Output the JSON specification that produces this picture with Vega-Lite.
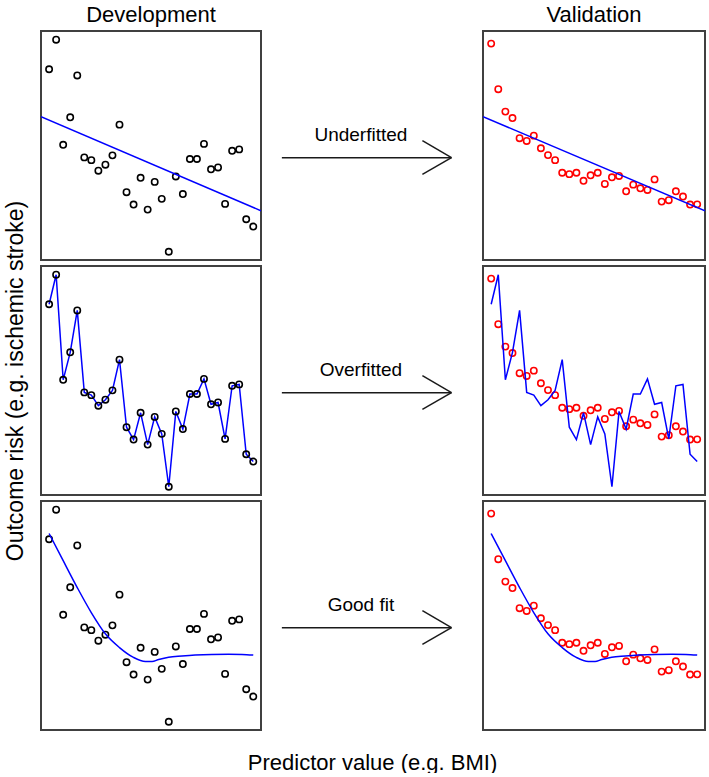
{
  "$schema": "https://vega.github.io/schema/vega-lite/v6.json",
  "padding": {"left": 2, "top": 3, "right": 0, "bottom": 0},
  "bounds": "flush",
  "config": {
    "font": "Liberation Sans",
    "view": {"stroke": "#404040", "strokeWidth": 2},
    "title": {"fontSize": 22, "fontWeight": "normal", "color": "black", "offset": 4}
  },
  "datasets": {
    "dev": [
      {"x": 1, "y": 83.3}, {"x": 2, "y": 96.2}, {"x": 3, "y": 50.3}, {"x": 4, "y": 62.3}, {"x": 5, "y": 80.6},
      {"x": 6, "y": 44.8}, {"x": 7, "y": 43.6}, {"x": 8, "y": 39.0}, {"x": 9, "y": 41.6}, {"x": 10, "y": 45.7},
      {"x": 11, "y": 59.1}, {"x": 12, "y": 29.6}, {"x": 13, "y": 24.2}, {"x": 14, "y": 35.9}, {"x": 15, "y": 22.0},
      {"x": 16, "y": 34.1}, {"x": 17, "y": 26.7}, {"x": 18, "y": 3.6}, {"x": 19, "y": 36.5}, {"x": 20, "y": 28.8},
      {"x": 21, "y": 44.1}, {"x": 22, "y": 44.1}, {"x": 23, "y": 50.7}, {"x": 24, "y": 39.6}, {"x": 25, "y": 40.4},
      {"x": 26, "y": 24.5}, {"x": 27, "y": 47.7}, {"x": 28, "y": 48.3}, {"x": 29, "y": 17.8}, {"x": 30, "y": 14.6}
    ],
    "val": [
      {"x": 1, "y": 94.5}, {"x": 2, "y": 74.6}, {"x": 3, "y": 64.8}, {"x": 4, "y": 62.0}, {"x": 5, "y": 53.2},
      {"x": 6, "y": 52.0}, {"x": 7, "y": 54.3}, {"x": 8, "y": 48.8}, {"x": 9, "y": 45.8}, {"x": 10, "y": 43.6},
      {"x": 11, "y": 38.1}, {"x": 12, "y": 37.5}, {"x": 13, "y": 38.1}, {"x": 14, "y": 34.6}, {"x": 15, "y": 37.0},
      {"x": 16, "y": 38.1}, {"x": 17, "y": 33.2}, {"x": 18, "y": 36.1}, {"x": 19, "y": 36.7}, {"x": 20, "y": 30.0},
      {"x": 21, "y": 32.9}, {"x": 22, "y": 31.3}, {"x": 23, "y": 30.6}, {"x": 24, "y": 35.2}, {"x": 25, "y": 25.5},
      {"x": 26, "y": 26.1}, {"x": 27, "y": 30.0}, {"x": 28, "y": 27.7}, {"x": 29, "y": 24.2}, {"x": 30, "y": 24.3}
    ],
    "fit": [{"x": -0.15, "y": 62.6}, {"x": 31.1, "y": 21.5}],
    "curve": [
      {"x": 1, "y": 85.8}, {"x": 2.89, "y": 74.6}, {"x": 5.0, "y": 62.2}, {"x": 6.99, "y": 51.3},
      {"x": 9.02, "y": 41.9}, {"x": 11.0, "y": 36.0}, {"x": 12.98, "y": 31.7}, {"x": 14.68, "y": 29.9},
      {"x": 15.62, "y": 29.9}, {"x": 16.57, "y": 30.8}, {"x": 17.98, "y": 31.8}, {"x": 19.87, "y": 32.3},
      {"x": 21.75, "y": 32.7}, {"x": 24.1, "y": 33.0}, {"x": 26.5, "y": 33.1}, {"x": 28.4, "y": 33.0},
      {"x": 30, "y": 32.7}
    ],
    "arrow": [
      {"x": 9.4, "y": 44.7, "x2": 85.8, "y2": 44.7},
      {"x": 72.7, "y": 52.1, "x2": 85.8, "y2": 44.7},
      {"x": 72.7, "y": 37.4, "x2": 85.8, "y2": 44.7}
    ]
  },
  "columns": 3,
  "spacing": {"row": 6, "column": 0},
  "concat": [
    {
      "width": 220, "height": 229,
      "title": {"text": "Development"},
      "encoding": {
        "x": {"field": "x", "type": "quantitative", "scale": {"domain": [-0.15, 31.1]}, "axis": null},
        "y": {"field": "y", "type": "quantitative", "scale": {"domain": [0, 100]}, "axis": null}
      },
      "layer": [
        {"data": {"name": "dev"}, "mark": {"type": "point", "shape": "circle", "filled": false, "color": "black", "strokeWidth": 1.6, "size": 40, "opacity": 1}},
        {"data": {"name": "fit"}, "mark": {"type": "line", "color": "#0000ff", "strokeWidth": 1.5, "clip": true}}
      ]
    },
    {
      "width": 222, "height": 229,
      "view": {"stroke": null},
      "encoding": {
        "x": {"field": "x", "type": "quantitative", "scale": {"domain": [0, 100]}, "axis": null},
        "y": {"field": "y", "type": "quantitative", "scale": {"domain": [0, 100]}, "axis": null}
      },
      "layer": [
        {"data": {"name": "arrow"}, "mark": {"type": "rule", "color": "#1a1a1a", "strokeWidth": 1.5}, "encoding": {"x2": {"field": "x2"}, "y2": {"field": "y2"}}},
        {"data": {"values": [{"label": "Underfitted", "x": 45, "y": 51.8}]}, "mark": {"type": "text", "fontSize": 19, "align": "center", "baseline": "alphabetic", "color": "black"}, "encoding": {"text": {"field": "label"}}}
      ]
    },
    {
      "width": 222, "height": 229,
      "title": {"text": "Validation"},
      "encoding": {
        "x": {"field": "x", "type": "quantitative", "scale": {"domain": [-0.15, 31.1]}, "axis": null},
        "y": {"field": "y", "type": "quantitative", "scale": {"domain": [0, 100]}, "axis": null}
      },
      "layer": [
        {"data": {"name": "val"}, "mark": {"type": "point", "shape": "circle", "filled": false, "color": "#ff0000", "strokeWidth": 1.6, "size": 40, "opacity": 1}},
        {"data": {"name": "fit"}, "mark": {"type": "line", "color": "#0000ff", "strokeWidth": 1.5, "clip": true}}
      ]
    },
    {
      "width": 220, "height": 229,
      "encoding": {
        "x": {"field": "x", "type": "quantitative", "scale": {"domain": [-0.15, 31.1]}, "axis": null},
        "y": {"field": "y", "type": "quantitative", "scale": {"domain": [0, 100]},
              "axis": {"title": "Outcome risk (e.g. ischemic stroke)", "labels": false, "ticks": false, "domain": false, "grid": false, "titleFontSize": 23, "titleFontWeight": "normal", "titleColor": "black", "titlePadding": 14}}
      },
      "layer": [
        {"data": {"name": "dev"}, "mark": {"type": "line", "color": "#0000ff", "strokeWidth": 1.5}},
        {"data": {"name": "dev"}, "mark": {"type": "point", "shape": "circle", "filled": false, "color": "black", "strokeWidth": 1.6, "size": 40, "opacity": 1}}
      ]
    },
    {
      "width": 222, "height": 229,
      "view": {"stroke": null},
      "encoding": {
        "x": {"field": "x", "type": "quantitative", "scale": {"domain": [0, 100]}, "axis": null},
        "y": {"field": "y", "type": "quantitative", "scale": {"domain": [0, 100]}, "axis": null}
      },
      "layer": [
        {"data": {"name": "arrow"}, "mark": {"type": "rule", "color": "#1a1a1a", "strokeWidth": 1.5}, "encoding": {"x2": {"field": "x2"}, "y2": {"field": "y2"}}},
        {"data": {"values": [{"label": "Overfitted", "x": 45, "y": 51.8}]}, "mark": {"type": "text", "fontSize": 19, "align": "center", "baseline": "alphabetic", "color": "black"}, "encoding": {"text": {"field": "label"}}}
      ]
    },
    {
      "width": 222, "height": 229,
      "encoding": {
        "x": {"field": "x", "type": "quantitative", "scale": {"domain": [-0.15, 31.1]}, "axis": null},
        "y": {"field": "y", "type": "quantitative", "scale": {"domain": [0, 100]}, "axis": null}
      },
      "layer": [
        {"data": {"name": "val"}, "mark": {"type": "point", "shape": "circle", "filled": false, "color": "#ff0000", "strokeWidth": 1.6, "size": 40, "opacity": 1}},
        {"data": {"name": "dev"}, "mark": {"type": "line", "color": "#0000ff", "strokeWidth": 1.5}}
      ]
    },
    {
      "width": 220, "height": 229,
      "encoding": {
        "x": {"field": "x", "type": "quantitative", "scale": {"domain": [-0.15, 31.1]}, "axis": null},
        "y": {"field": "y", "type": "quantitative", "scale": {"domain": [0, 100]}, "axis": null}
      },
      "layer": [
        {"data": {"name": "dev"}, "mark": {"type": "point", "shape": "circle", "filled": false, "color": "black", "strokeWidth": 1.6, "size": 40, "opacity": 1}},
        {"data": {"name": "curve"}, "mark": {"type": "line", "color": "#0000ff", "strokeWidth": 1.5, "interpolate": "monotone"}}
      ]
    },
    {
      "width": 222, "height": 229,
      "view": {"stroke": null},
      "encoding": {
        "x": {"field": "x", "type": "quantitative", "scale": {"domain": [0, 100]},
              "axis": {"title": "Predictor value (e.g. BMI)", "labels": false, "ticks": false, "domain": false, "grid": false, "titleFontSize": 22, "titleFontWeight": "normal", "titleColor": "black", "titlePadding": 22}},
        "y": {"field": "y", "type": "quantitative", "scale": {"domain": [0, 100]}, "axis": null}
      },
      "layer": [
        {"data": {"name": "arrow"}, "mark": {"type": "rule", "color": "#1a1a1a", "strokeWidth": 1.5}, "encoding": {"x2": {"field": "x2"}, "y2": {"field": "y2"}}},
        {"data": {"values": [{"label": "Good fit", "x": 45, "y": 51.8}]}, "mark": {"type": "text", "fontSize": 19, "align": "center", "baseline": "alphabetic", "color": "black"}, "encoding": {"text": {"field": "label"}}}
      ]
    },
    {
      "width": 222, "height": 229,
      "encoding": {
        "x": {"field": "x", "type": "quantitative", "scale": {"domain": [-0.15, 31.1]}, "axis": null},
        "y": {"field": "y", "type": "quantitative", "scale": {"domain": [0, 100]}, "axis": null}
      },
      "layer": [
        {"data": {"name": "val"}, "mark": {"type": "point", "shape": "circle", "filled": false, "color": "#ff0000", "strokeWidth": 1.6, "size": 40, "opacity": 1}},
        {"data": {"name": "curve"}, "mark": {"type": "line", "color": "#0000ff", "strokeWidth": 1.5, "interpolate": "monotone"}}
      ]
    }
  ]
}
